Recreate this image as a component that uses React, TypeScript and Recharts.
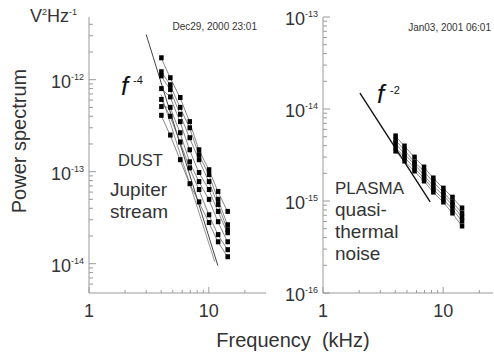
import { LineChart, Line, XAxis, YAxis } from 'recharts'

// frequencies of the spectrometer channels (kHz)
const freqs = [4.0, 4.75, 5.75, 6.9, 8.25, 10, 11.9, 14.3]

// left panel: dust impacts, Jupiter stream
const dustA = [1.73e-12, 1.05e-12, 6.4e-13, 3.5e-13, 1.73e-13, 1.05e-13, 6.1e-14, 3.7e-14]
const dustB = [1.22e-12, 8.8e-13, 5.0e-13, 3.0e-13, 1.53e-13, 9.3e-14, 5.0e-14, 2.65e-14]
const dustC = [1.1e-12, 7.8e-13, 4.2e-13, 2.34e-13, 1.35e-13, 7.8e-14, 4.4e-14, 2.34e-14]
const dustD = [8.0e-13, 6.5e-13, 3.5e-13, 1.73e-13, 9.8e-14, 6.4e-14, 3.7e-14, 2.17e-14]
const dustE = [5.1e-13, 5.0e-13, 2.65e-13, 1.28e-13, 7.8e-14, 5.0e-14, 2.86e-14, 1.73e-14]
const dustF = [4.1e-13, 2.5e-13, 1.35e-13, 7.4e-14, 4.7e-14, 2.8e-14, 1.73e-14, 1.19e-14]
const dustG = [6.1e-13, 4.0e-13, 2.1e-13, 1.1e-13, 6.4e-14, 3.4e-14, 2.07e-14, 1.42e-14]

// right panel: plasma quasi-thermal noise
const plasmaA = [5.1e-15, 3.96e-15, 3.0e-15, 2.34e-15, 1.78e-15, 1.38e-15, 1.1e-15, 8.4e-16]
const plasmaB = [4.6e-15, 3.58e-15, 2.65e-15, 2.12e-15, 1.61e-15, 1.25e-15, 9.75e-16, 7.4e-16]
const plasmaC = [4.27e-15, 3.24e-15, 2.52e-15, 1.92e-15, 1.46e-15, 1.16e-15, 9.05e-16, 6.7e-16]
const plasmaD = [3.86e-15, 3.0e-15, 2.29e-15, 1.78e-15, 1.35e-15, 1.05e-15, 8.2e-16, 6.07e-16]
const plasmaE = [3.49e-15, 2.72e-15, 2.12e-15, 1.65e-15, 1.25e-15, 9.75e-16, 7.4e-16, 5.35e-16]

// power-law guide lines
const slope4 = [{ f: 3.0, v: 3.1e-12 }, { f: 11.9, v: 9.5e-15 }]
const fitDust = [{ f: 4.0, v: 6.9e-13 }, { f: 11.2, v: 1.05e-14 }]
const slope2 = [{ f: 2.03, v: 1.49e-14 }, { f: 7.8, v: 9.8e-16 }]

// axis ticks
const xTicks = [1, 2, 3, 4, 5, 6, 7, 8, 9, 10, 20]
const yTicksDust = [
  6e-15, 7e-15, 8e-15, 9e-15, 1e-14, 2e-14, 3e-14, 4e-14, 5e-14, 6e-14, 7e-14, 8e-14, 9e-14,
  1e-13, 2e-13, 3e-13, 4e-13, 5e-13, 6e-13, 7e-13, 8e-13, 9e-13, 1e-12, 2e-12, 3e-12, 4e-12,
]
const yTicksPlasma = [
  2e-16, 3e-16, 4e-16, 5e-16, 6e-16, 7e-16, 8e-16, 9e-16, 1e-15, 2e-15, 3e-15, 4e-15, 5e-15,
  6e-15, 7e-15, 8e-15, 9e-15, 1e-14, 2e-14, 3e-14, 4e-14, 5e-14, 6e-14, 7e-14, 8e-14, 9e-14,
]
const yMajorPlasmaRight = [1e-15, 1e-14]

const dustRows = freqs.map((f, i) => ({
  f, a: dustA[i], b: dustB[i], c: dustC[i], d: dustD[i], e: dustE[i], g: dustF[i], h: dustG[i],
}))
const plasmaRows = freqs.map((f, i) => ({
  f, a: plasmaA[i], b: plasmaB[i], c: plasmaC[i], d: plasmaD[i], e: plasmaE[i],
}))

const FONT = '"Liberation Sans", Arial, sans-serif'
const AX = '#9a9a9a'
const TXT = '#333'

const isMajor = (v: number) => {
  const l = Math.log10(v)
  return Math.abs(l - Math.round(l)) < 1e-6
}

function Pow({ x, y, exp }: { x: number; y: number; exp: number }) {
  return (
    <text x={x} y={y} textAnchor="end" fontSize={18} fill={TXT} fontFamily={FONT}>
      <tspan>10</tspan>
      <tspan dy={-8} fontSize={9}>{String(exp)}</tspan>
    </text>
  )
}

const leftTick = (p: any) => {
  const v = p.payload.value
  const maj = isMajor(v)
  return (
    <g>
      <line x1={p.x} x2={p.x + (maj ? 7 : 4)} y1={p.y} y2={p.y} stroke={AX} />
      {maj && <Pow x={p.x - 5} y={p.y + 8} exp={Math.round(Math.log10(v))} />}
    </g>
  )
}

const rightTick = (p: any) => {
  const maj = isMajor(p.payload.value)
  return <line x1={p.x} x2={p.x - (maj ? 7 : 4)} y1={p.y} y2={p.y} stroke={AX} />
}

const bottomTick = (p: any) => {
  const v = p.payload.value
  const maj = isMajor(v)
  return (
    <g>
      <line x1={p.x} x2={p.x} y1={p.y} y2={p.y - (maj ? 6 : 3)} stroke={AX} />
      {maj && (
        <text x={p.x} y={p.y + 24} textAnchor="middle" fontSize={18} fill={TXT} fontFamily={FONT}>
          {v}
        </text>
      )}
    </g>
  )
}

const topTick = (p: any) => {
  const maj = isMajor(p.payload.value)
  return <line x1={p.x} x2={p.x} y1={p.y} y2={p.y + (maj ? 6 : 3)} stroke={AX} />
}

const squareDot = (p: any) => (
  <rect key={`d-${p.index}`} x={p.cx - 2} y={p.cy - 2.5} width={4.5} height={5} fill="#000" />
)

const seriesLine = (key: string) => (
  <Line
    key={key}
    dataKey={key}
    type="linear"
    stroke="#555"
    strokeWidth={0.7}
    dot={squareDot}
    activeDot={false}
    isAnimationActive={false}
  />
)

function Panel({
  rows, keys, xMax, yDomain, yTicks, yRightTicks, width, marginRight, yWidth, guides,
}: any) {
  return (
    <LineChart
      width={width}
      height={357}
      data={rows}
      margin={{ top: 17, right: marginRight, bottom: 24, left: 0 }}
    >
      <XAxis
        dataKey="f"
        type="number"
        scale="log"
        domain={[1, xMax]}
        allowDataOverflow
        ticks={xTicks}
        interval={0}
        tick={bottomTick}
        tickSize={0}
        tickMargin={0}
        tickLine={false}
        axisLine={{ stroke: AX }}
        height={40}
      />
      <XAxis
        xAxisId="t"
        orientation="top"
        dataKey="f"
        type="number"
        scale="log"
        domain={[1, xMax]}
        allowDataOverflow
        ticks={xTicks}
        interval={0}
        tick={topTick}
        tickSize={0}
        tickMargin={0}
        tickLine={false}
        axisLine={{ stroke: AX }}
        height={0}
      />
      <YAxis
        type="number"
        scale="log"
        domain={yDomain}
        allowDataOverflow
        ticks={yTicks}
        interval={0}
        tick={leftTick}
        tickSize={0}
        tickMargin={0}
        tickLine={false}
        axisLine={{ stroke: AX }}
        width={yWidth}
      />
      <YAxis
        yAxisId="r"
        orientation="right"
        type="number"
        scale="log"
        domain={yDomain}
        allowDataOverflow
        ticks={yRightTicks}
        interval={0}
        tick={rightTick}
        tickSize={0}
        tickMargin={0}
        tickLine={false}
        axisLine={{ stroke: AX }}
        width={0}
      />
      {guides.map((g: any, i: number) => (
        <Line
          key={`g-${i}`}
          data={g.data}
          dataKey="v"
          type="linear"
          stroke={g.color}
          strokeWidth={g.width}
          dot={false}
          activeDot={false}
          isAnimationActive={false}
        />
      ))}
      {keys.map((k: string) => seriesLine(k))}
    </LineChart>
  )
}

export default function App() {
  return (
    <div
      style={{
        position: 'absolute', left: 0, top: 0, width: 494, height: 357,
        overflow: 'hidden', background: '#fff', fontFamily: FONT,
      }}
    >
      <div style={{ position: 'absolute', left: 0, top: 0 }}>
        <Panel
          rows={dustRows}
          keys={['a', 'b', 'c', 'd', 'e', 'g', 'h']}
          xMax={30}
          yDomain={[4.8e-15, 4.8e-12]}
          yTicks={yTicksDust}
          yRightTicks={yTicksDust}
          width={280}
          marginRight={14}
          yWidth={89}
          guides={[
            { data: slope4, color: '#444', width: 1 },
            { data: fitDust, color: '#666', width: 0.7 },
          ]}
        />
      </div>
      <div style={{ position: 'absolute', left: 250, top: 0 }}>
        <Panel
          rows={plasmaRows}
          keys={['a', 'b', 'c', 'd', 'e']}
          xMax={26}
          yDomain={[1e-16, 1e-13]}
          yTicks={[1e-16, ...yTicksPlasma, 1e-13]}
          yRightTicks={yMajorPlasmaRight}
          width={260}
          marginRight={17}
          yWidth={73}
          guides={[{ data: slope2, color: '#111', width: 1.4 }]}
        />
      </div>
      <svg
        width={494}
        height={357}
        style={{ position: 'absolute', left: 0, top: 0, pointerEvents: 'none' }}
        fontFamily={FONT}
        fill={TXT}
      >
        <text x={30} y={22} fontSize={18}>
          V<tspan dy={-7} fontSize={9}>2</tspan>
          <tspan dy={7}>Hz</tspan>
          <tspan dy={-7} fontSize={9}>-1</tspan>
        </text>
        <text x={257} y={30} fontSize={10} textAnchor="end">Dec29, 2000 23:01</text>
        <text x={491} y={31} fontSize={10} textAnchor="end">Jan03, 2001 06:01</text>
        <text x={121} y={95} fontSize={26} fontStyle="italic" fill="#111">f</text>
        <text x={133} y={84} fontSize={11} fill="#111">-4</text>
        <text x={377} y={103} fontSize={26} fontStyle="italic" fill="#111">f</text>
        <text x={390} y={94} fontSize={11} fill="#111">-2</text>
        <text x={118} y={166} fontSize={16.5}>DUST</text>
        <text x={110} y={196} fontSize={19}>Jupiter</text>
        <text x={110} y={218} fontSize={19}>stream</text>
        <text x={335} y={194} fontSize={17}>PLASMA</text>
        <text x={335} y={216} fontSize={19}>quasi-</text>
        <text x={335} y={238} fontSize={19}>thermal</text>
        <text x={335} y={260} fontSize={19}>noise</text>
        <text
          x={0}
          y={0}
          fontSize={20}
          textAnchor="middle"
          transform="translate(26 141) rotate(-90)"
        >
          Power spectrum
        </text>
        <text x={293} y={347} fontSize={20} textAnchor="middle">{'Frequency\u00a0\u00a0(kHz)'}</text>
      </svg>
    </div>
  )
}
